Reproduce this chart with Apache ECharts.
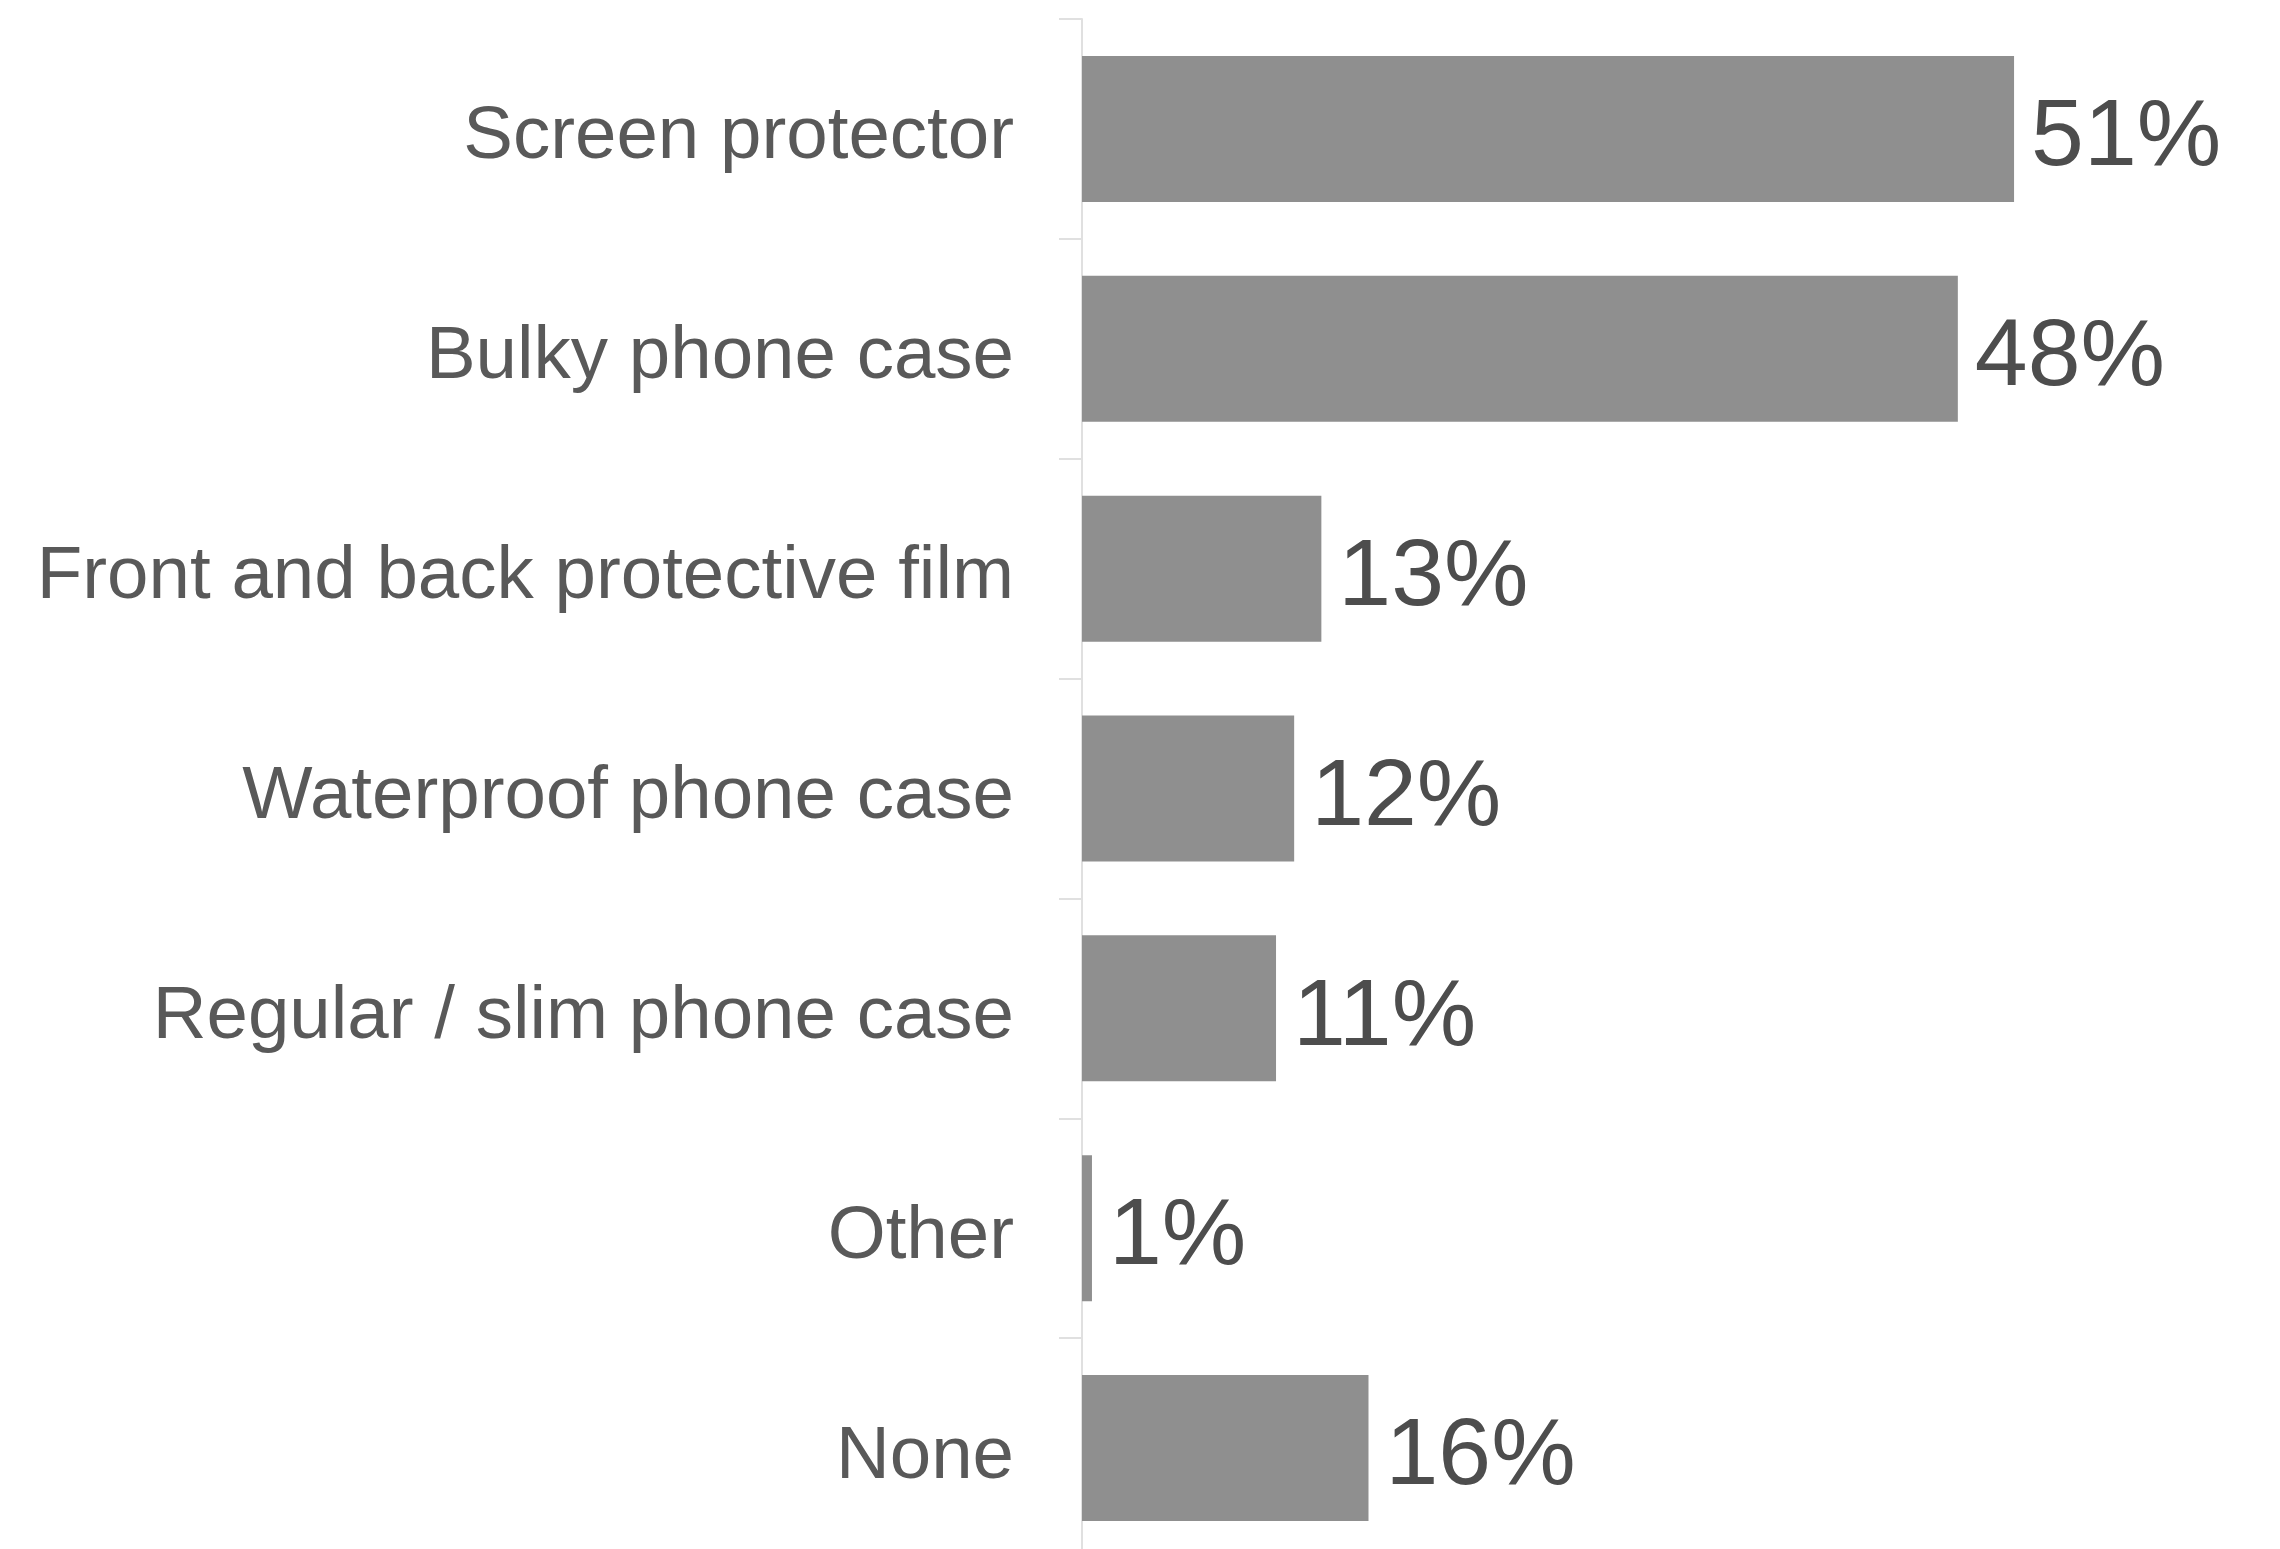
<!DOCTYPE html>
<html>
<head>
<meta charset="utf-8">
<script src="https://cdn.jsdelivr.net/npm/echarts@6/dist/echarts.min.js"></script>
<style>
html,body{margin:0;padding:0;background:#fff;overflow:hidden;width:2280px;height:1549px;}
#chart{width:2280px;height:1560px;}
</style>
</head>
<body>
<div id="chart"></div>
<script>
const categories = ["Screen protector","Bulky phone case","Front and back protective film","Waterproof phone case","Regular / slim phone case","Other","None"];
const values = [51.4, 48.3, 13.2, 11.7, 10.7, 0.55, 15.8];

const chart = echarts.init(document.getElementById('chart'), null, {renderer:'canvas'});
chart.setOption({
  animation:false,
  backgroundColor:'#ffffff',
  grid:{left:1082, right:110, top:19, bottom:2, containLabel:false},
  xAxis:{type:'value', min:0, max:60, show:false},
  yAxis:{
    type:'category', inverse:true, data:categories,
    axisLine:{show:true, lineStyle:{color:'#e0e0e0', width:2}},
    axisTick:{show:true, length:23, lineStyle:{color:'#e0e0e0', width:2}},
    axisLabel:{color:'#595959', fontSize:74.5, fontFamily:'Liberation Sans, Arial, sans-serif', margin:68,
      verticalAlign:'top', lineHeight:18},
    splitLine:{show:false}
  },
  series:[{
    type:'bar', data:values, barWidth:146,
    itemStyle:{color:'#8f8f8f'},
    label:{show:true, position:'right', distance:17, offset:[0,10],
      formatter:function(p){return Math.round(p.value)+'%';},
      color:'#4d4d4d', fontSize:95, fontFamily:'Liberation Sans, Arial, sans-serif'}
  }]
});
</script>
</body>
</html>
